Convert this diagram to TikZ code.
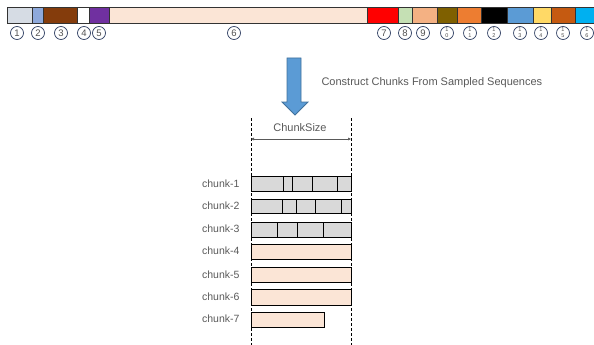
\documentclass[tikz,border=0pt]{standalone}
\usepackage{fontspec}
\setmainfont{Liberation Sans}
\usetikzlibrary{arrows.meta}
\definecolor{txt}{HTML}{595959}
\definecolor{navy}{HTML}{2F3F62}
\definecolor{cA}{HTML}{D6DCE4}
\definecolor{cB}{HTML}{8EA9DB}
\definecolor{cC}{HTML}{843C0C}
\definecolor{cD}{HTML}{FFFFFF}
\definecolor{cE}{HTML}{7030A0}
\definecolor{cF}{HTML}{FBE5D6}
\definecolor{cG}{HTML}{FF0000}
\definecolor{cH}{HTML}{C5E0B4}
\definecolor{cI}{HTML}{F4B183}
\definecolor{cJ}{HTML}{7F6000}
\definecolor{cK}{HTML}{ED7D31}
\definecolor{cL}{HTML}{000000}
\definecolor{cM}{HTML}{5B9BD5}
\definecolor{cN}{HTML}{FFD966}
\definecolor{cO}{HTML}{C55A11}
\definecolor{cP}{HTML}{00B0F0}
\definecolor{grayfill}{HTML}{D9D9D9}
\definecolor{arrowfill}{HTML}{5B9BD5}
\definecolor{arrowline}{HTML}{41719C}
\begin{document}
\begin{tikzpicture}[x=1pt,y=-1pt,
  seg/.style={draw=black!80,line width=1pt},
  circnum/.style={circle,draw=navy,line width=0.7pt,minimum size=13pt,inner sep=0pt,text=txt!90!black,font=\fontsize{9.5}{10}\selectfont},
  chunkbox/.style={draw=black,line width=0.8pt},
  chunklabel/.style={anchor=east,text=txt,font=\fontsize{10.5}{12}\selectfont},
  guide/.style={draw=black,line width=0.6pt,dash pattern=on 3pt off 2pt},
  lbl/.style={text=txt,font=\fontsize{11}{13}\selectfont}]
\useasboundingbox (0,0) rectangle (594,345);
% top bar
\foreach \a/\b/\c in {7/32/cA,32/43/cB,43/77/cC,77/89/cD,89/109/cE,109/367/cF,367/398/cG,398/412/cH,412/437/cI,437/457/cJ,457/481/cK,481/507/cL,507/533/cM,533/551/cN,551/575/cO,575/594/cP}
  \filldraw[seg,fill=\c] (\a,8) rectangle (\b,24);
% circled numbers
\foreach \x/\n in {17/1,38/2,61/3,84/4,99/5,234/6,384/7,405/8,423/9}
  \node[circnum] (n\n) at (\x,33) {\n};
\foreach \x/\n in {447/0,470/1,494/2,520/3,541/4,563/5,587/6}
  \node[circnum,font=\fontsize{5.5}{5.5}\selectfont] (m\n) at (\x,33) {\shortstack{1\\[-1pt]\n}};
% big arrow
\filldraw[draw=arrowline,fill=arrowfill,line width=0.8pt,line join=miter]
  (287,58) -- (301,58) -- (301,102) -- (308,102) -- (295,115) -- (282,102) -- (287,102) -- cycle;
\node[lbl,anchor=west] (cap) at (318,83) {Construct Chunks From Sampled Sequences};
% guides
\coordinate (gl1) at (251,118); \coordinate (gl2) at (251,345);
\coordinate (gr1) at (351,118); \coordinate (gr2) at (351,345);
\draw[guide] (gl1) -- (gl2);
\draw[guide] (gr1) -- (gr2);
\coordinate (dl) at (251,139); \coordinate (dr) at (351,139);
\draw[line width=0.5pt,txt,{Latex[length=3pt,width=3pt]}-{Latex[length=3pt,width=3pt]}] (dl) -- (dr);
\node[lbl] (cs) at (300,128) {ChunkSize};
% chunks
\filldraw[chunkbox,fill=grayfill] (251,176) rectangle (351,191);
\foreach \x in {283,292,312,337} \draw[chunkbox] (\x,176) -- (\x,191);
\filldraw[chunkbox,fill=grayfill] (251,199) rectangle (351,213);
\foreach \x in {282,296,315,341} \draw[chunkbox] (\x,199) -- (\x,213);
\filldraw[chunkbox,fill=grayfill] (251,222) rectangle (351,237);
\foreach \x in {277,297,323} \draw[chunkbox] (\x,222) -- (\x,237);
\filldraw[chunkbox,fill=cF] (251,244) rectangle (351,259);
\filldraw[chunkbox,fill=cF] (251,267) rectangle (351,282);
\filldraw[chunkbox,fill=cF] (251,289) rectangle (351,305);
\filldraw[chunkbox,fill=cF] (251,312) rectangle (324,327);
\foreach \y/\n in {184/1,206/2,229/3,251/4,275/5,297/6,319/7}
  \node[chunklabel] (c\n) at (243,\y) {chunk-\n};
\end{tikzpicture}
\end{document}
